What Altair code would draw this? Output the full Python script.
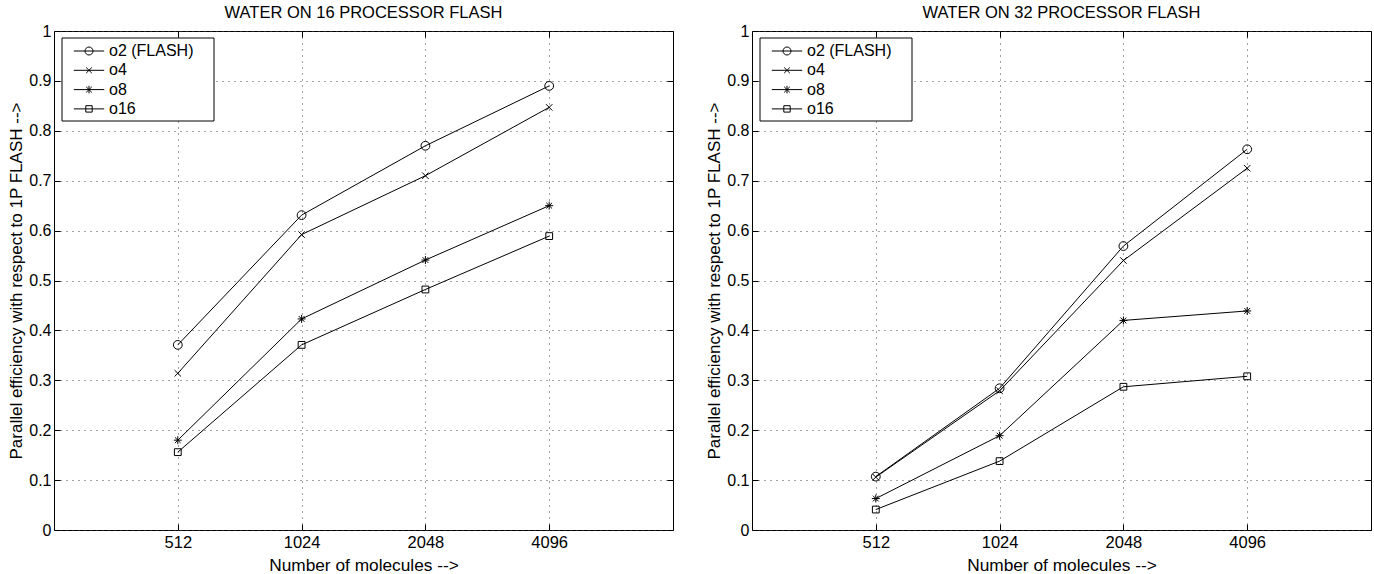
import altair as alt
import pandas as pd

# ---------------- data ----------------
molecules = [512, 1024, 2048, 4096]
series_names = ["o2 (FLASH)", "o4", "o8", "o16"]

left_title = "WATER ON 16 PROCESSOR FLASH"
left_o2 = [0.371, 0.631, 0.770, 0.890]
left_o4 = [0.314, 0.592, 0.710, 0.847]
left_o8 = [0.180, 0.423, 0.541, 0.650]
left_o16 = [0.156, 0.371, 0.482, 0.589]

right_title = "WATER ON 32 PROCESSOR FLASH"
right_o2 = [0.107, 0.284, 0.569, 0.763]
right_o4 = [0.106, 0.279, 0.540, 0.725]
right_o8 = [0.063, 0.189, 0.420, 0.439]
right_o16 = [0.041, 0.138, 0.287, 0.308]

y_ticks = [0, 0.1, 0.2, 0.3, 0.4, 0.5, 0.6, 0.7, 0.8, 0.9, 1]
x_title = "Number of molecules -->"
y_title = "Parallel efficiency with respect to 1P FLASH -->"

# ---------------- styling ----------------
W, H = 619, 499
FONT = "Liberation Sans"

marker_paths = [
    "M1.1,0A1.1,1.1 0 1,1 -1.1,0A1.1,1.1 0 1,1 1.1,0Z",
    "M-0.8,-0.8L0.8,0.8M-0.8,0.8L0.8,-0.8",
    "M-1,0L1,0M0,-1L0,1M-0.72,-0.72L0.72,0.72M-0.72,0.72L0.72,-0.72",
    "M-0.85,-0.85H0.85V0.85H-0.85Z",
]
legend_paths = [
    "M-3.8,0H3.8M1,0A1,1 0 1,1 -1,0A1,1 0 1,1 1,0Z",
    "M-3.8,0H3.8M-0.7,-0.7L0.7,0.7M-0.7,0.7L0.7,-0.7",
    "M-3.8,0H3.8M0,-0.95L0,0.95M-0.7,-0.7L0.7,0.7M-0.7,0.7L0.7,-0.7",
    "M-3.8,0H3.8M-0.8,-0.8H0.8V0.8H-0.8Z",
]


def make_df(vals):
    rows = []
    for name, v in zip(series_names, vals):
        for m, y in zip(molecules, v):
            rows.append({"series": name, "molecules": m, "value": y})
    return pd.DataFrame(rows)


xscale = alt.Scale(type="log", base=2, domain=[256, 8192], nice=False)
yscale = alt.Scale(domain=[0, 1], nice=False, zero=False)


def tick_axis(orient, offset, values):
    return alt.Axis(orient=orient, offset=offset, values=values, labels=False,
                    domain=False, grid=False, ticks=True, tickSize=6,
                    tickColor="black", tickWidth=1, title=None, zindex=1)


def make_panel(title, vals):
    df = make_df(vals)
    base = alt.Chart(df)

    box = alt.Chart(pd.DataFrame({"k": [0]})).mark_rect(
        fill="white", stroke="black", strokeWidth=1
    ).encode(x=alt.value(8), x2=alt.value(160), y=alt.value(7), y2=alt.value(90))

    lines = base.mark_line(color="black", strokeWidth=1).encode(
        x=alt.X("molecules:Q", scale=xscale,
                axis=alt.Axis(orient="bottom", values=molecules, format="d",
                              labelFont=FONT, labelFontSize=16.5, labelPadding=4,
                              labelColor="black", ticks=True, tickSize=0,
                              tickOpacity=0,
                              domain=False, grid=True, gridDash=[1, 5],
                              gridColor="#444", gridWidth=1,
                              title=x_title, titleFont=FONT, titleFontSize=17.3,
                              titleFontWeight="normal", titleColor="black",
                              titlePadding=5.5)),
        y=alt.Y("value:Q", scale=yscale,
                axis=alt.Axis(orient="left", values=y_ticks, format=".1~f",
                              labelFont=FONT, labelFontSize=16, labelPadding=3,
                              labelColor="black", ticks=True, tickSize=0,
                              tickOpacity=0,
                              domain=False, grid=True, gridDash=[1, 5],
                              gridColor="#444", gridWidth=1,
                              title=y_title, titleFont=FONT, titleFontSize=17,
                              titleFontWeight="normal", titleColor="black",
                              titlePadding=3)),
        detail="series:N",
        order="molecules:Q",
    )

    points = base.mark_point(filled=False, color="black", strokeWidth=1, size=64,
                             opacity=1).encode(
        x=alt.X("molecules:Q", scale=xscale, axis=tick_axis("top", -H, molecules)),
        y=alt.Y("value:Q", scale=yscale, axis=tick_axis("right", -W, y_ticks)),
        shape=alt.Shape("series:N",
                        scale=alt.Scale(domain=series_names, range=marker_paths),
                        legend=None),
    )

    legend_layer = base.mark_point(filled=False, color="black", strokeWidth=1,
                                   size=64, opacity=0).encode(
        x=alt.X("molecules:Q", scale=xscale, axis=tick_axis("bottom", -H, molecules)),
        y=alt.Y("value:Q", scale=yscale, axis=tick_axis("left", -W, y_ticks)),
        shape=alt.Shape("series:N",
                        scale=alt.Scale(domain=series_names, range=legend_paths),
                        legend=alt.Legend(orient="top-left", offset=7, padding=5,
                                          title=None, labelFont=FONT,
                                          labelFontSize=16, labelColor="black",
                                          symbolSize=64, symbolOffset=15,
                                          labelOffset=12, rowPadding=3.3,
                                          symbolOpacity=1, symbolStrokeColor="black",
                                          symbolFillColor="transparent",
                                          symbolStrokeWidth=1,
                                          strokeColor="transparent",
                                          fillColor="transparent")),
    )

    return alt.layer(box, lines, points, legend_layer).resolve_scale(
        shape="independent"
    ).resolve_axis(x="independent", y="independent").properties(
        width=W, height=H,
        title=alt.TitleParams(title, font=FONT, fontSize=16.5, fontWeight="normal",
                              color="black", anchor="middle", offset=2),
    )


left = make_panel(left_title, [left_o2, left_o4, left_o8, left_o16])
right = make_panel(right_title, [right_o2, right_o4, right_o8, right_o16])

chart = alt.hconcat(left, right, spacing=31).resolve_scale(
    shape="independent"
).resolve_legend(shape="independent").properties(
    padding={"left": 7, "top": 4, "right": 0, "bottom": 0},
    background="white",
).configure_view(stroke="black", strokeWidth=1)

chart.save("out.html", embed_options={"renderer": "svg", "actions": False})
